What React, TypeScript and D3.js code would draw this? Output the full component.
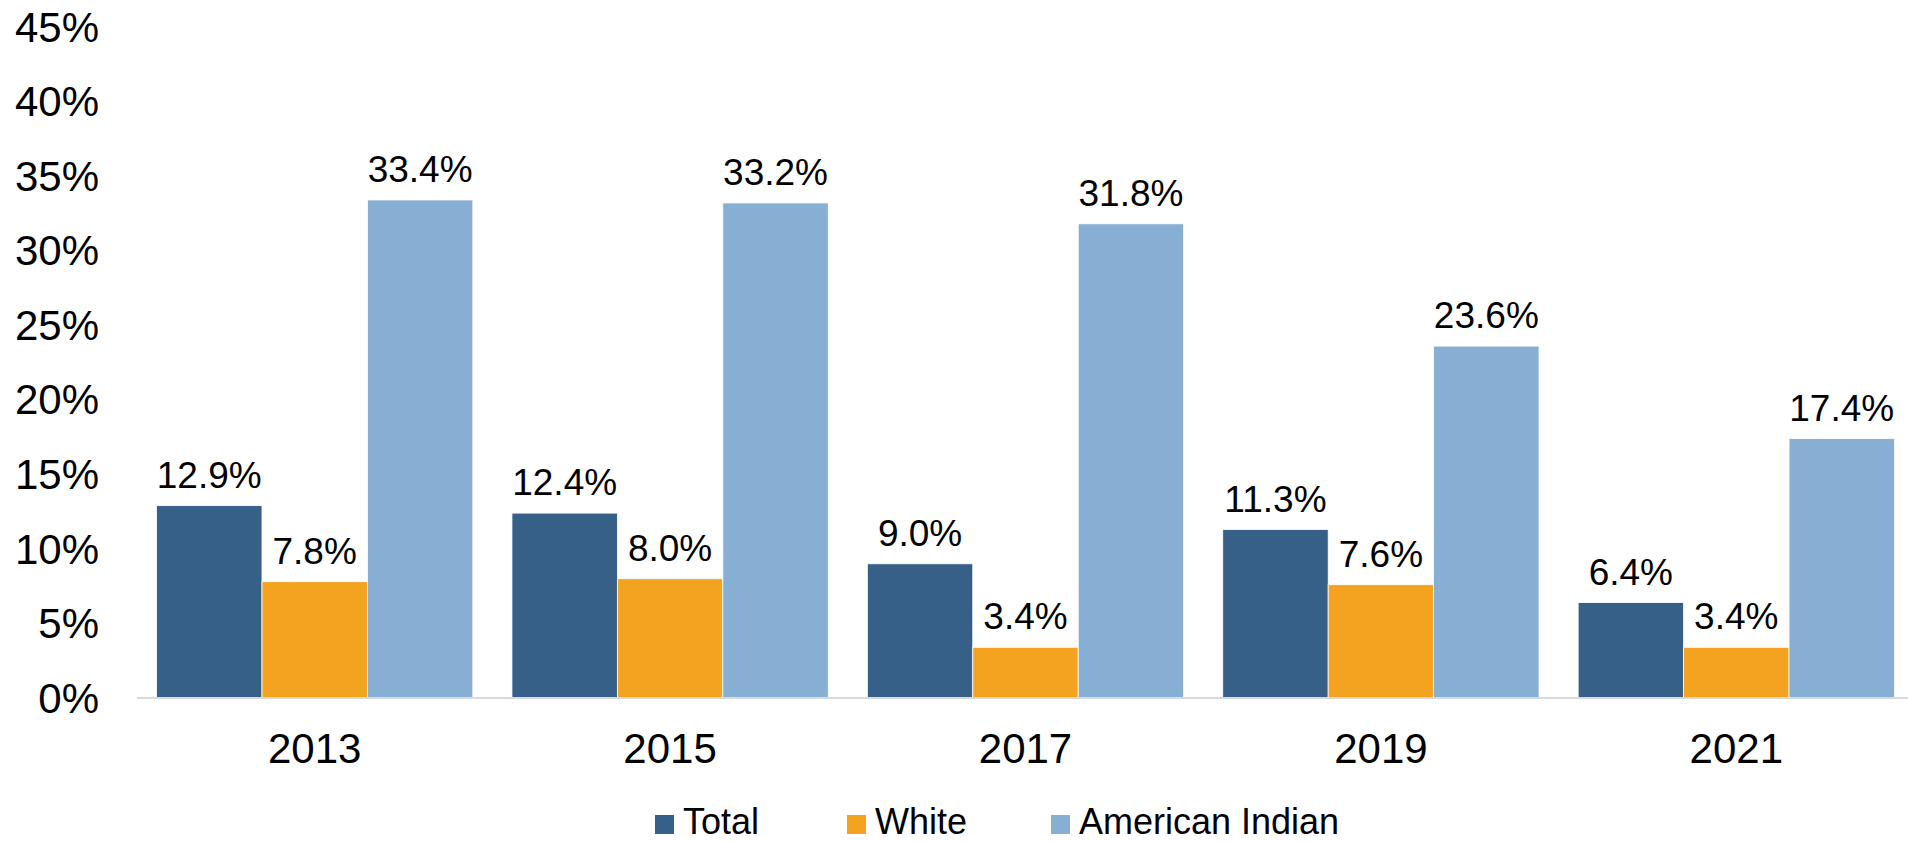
import React, { useEffect } from 'react';
import { scaleBand, scaleLinear, range } from 'd3';

const years = ['2013', '2015', '2017', '2019', '2021'];
const seriesNames = ['Total', 'White', 'American Indian'];
const totalValues = [12.9, 12.4, 9.0, 11.3, 6.4];
const whiteValues = [7.8, 8.0, 3.4, 7.6, 3.4];
const americanIndianValues = [33.4, 33.2, 31.8, 23.6, 17.4];
const yTicks = range(0, 50, 5);

const colours = ['#376089', '#f4a321', '#87afd3'];

const width = 1908;
const height = 842;
const fontFamily = '"Liberation Sans", Arial, sans-serif';

const App = () => {
  useEffect(() => {
    document.body.style.margin = '0';
  }, []);

  const series = [totalValues, whiteValues, americanIndianValues];

  const x0Scale = scaleBand()
    .domain(years)
    .range([137, 1914])
    .paddingInner(0.11)
    .paddingOuter(0.055);
  const x1Scale = scaleBand()
    .domain(seriesNames)
    .range([0, x0Scale.bandwidth()])
    .padding(0);
  const yScale = scaleLinear().domain([0, 45]).range([698, 27]);

  // legend positions
  const legendX = [655, 847, 1051];

  return (
    <svg
      width={width}
      height={height}
      style={{ display: 'block', background: '#fff' }}
      fontFamily={fontFamily}
    >
      {yTicks.map((t) => (
        <text
          key={t}
          x={99}
          y={yScale(t)}
          dy='0.35em'
          textAnchor='end'
          fontSize={42}
          fill='#000'
        >
          {t}%
        </text>
      ))}

      {years.map((year, i) => (
        <g key={year} transform={`translate(${x0Scale(year)}, 0)`}>
          {seriesNames.map((name, s) => {
            const v = series[s][i];
            const bx = x1Scale(name);
            return (
              <g key={name}>
                <rect
                  x={bx}
                  y={yScale(v)}
                  width={x1Scale.bandwidth()}
                  height={yScale(0) - yScale(v)}
                  fill={colours[s]}
                  stroke='#fff'
                  strokeWidth={0.8}
                />
                <text
                  x={bx + x1Scale.bandwidth() / 2}
                  y={yScale(v) - 18}
                  textAnchor='middle'
                  fontSize={37}
                  fill='#000'
                >
                  {v.toFixed(1)}%
                </text>
              </g>
            );
          })}
          <text
            x={x0Scale.bandwidth() / 2}
            y={763}
            textAnchor='middle'
            fontSize={42}
            fill='#000'
          >
            {year}
          </text>
        </g>
      ))}

      <line
        x1={137}
        x2={width}
        y1={yScale(0)}
        y2={yScale(0)}
        stroke='#d9d9d9'
        strokeWidth={2}
      />

      {seriesNames.map((name, s) => (
        <g key={name}>
          <rect x={legendX[s]} y={815} width={19} height={19} fill={colours[s]} />
          <text x={legendX[s] + 28} y={834} fontSize={36} fill='#000'>
            {name}
          </text>
        </g>
      ))}
    </svg>
  );
};

export default App;
